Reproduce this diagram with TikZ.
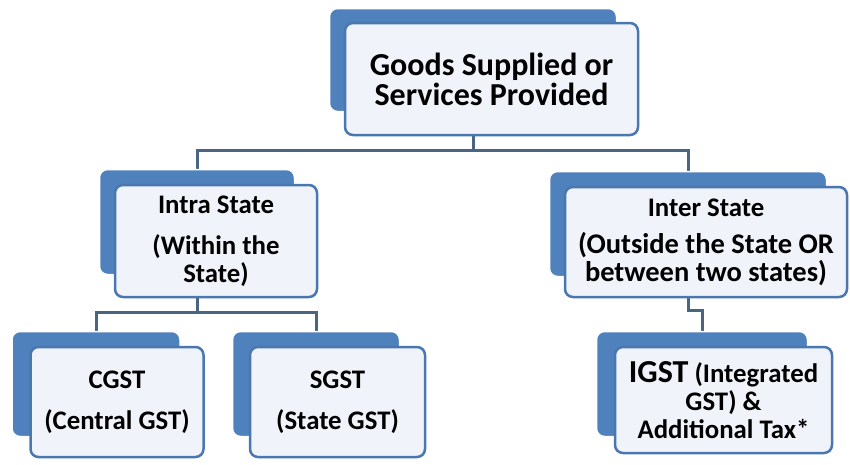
\documentclass[tikz,border=0pt]{standalone}
\usepackage{fontspec}
\setmainfont{Carlito}
\usepackage{tikz}
\usepackage{xcolor}
\usetikzlibrary{positioning}
\usetikzlibrary{backgrounds}

\definecolor{backblue}{HTML}{4F81BD}
\definecolor{frontedge}{HTML}{4A77AF}
\definecolor{frontfill}{HTML}{F0F3F9}
\definecolor{connline}{HTML}{4A6580}

\begin{document}
\begin{tikzpicture}[x=1pt, y=-1pt,
Bnode/.style={rectangle, rounded corners=8pt, fill=backblue, draw=white, line width=1.5pt},
Fnode/.style={rectangle, rounded corners=8pt, fill=frontfill, draw=frontedge, line width=2.5pt, anchor=north west, align=center, font=\bfseries\fontsize{26.8}{28}\selectfont},
Cline/.style={draw=connline, line width=3pt}
]
\useasboundingbox (0,0) rectangle (850,464);

%Nodes
\node[Bnode, minimum width=287pt, minimum height=103pt] (GSb) at (473,60) {};
\node[Fnode, minimum width=293pt, minimum height=112pt, font=\bfseries\fontsize{32}{30}\selectfont] (GS) at ([shift={(15,14)}]GSb.north west) {Goods Supplied or\\Services Provided};

\node[Bnode, minimum width=195pt, minimum height=105pt] (INb) at (197,222) {};
\node[Fnode, minimum width=202pt, minimum height=112pt] (IN) at ([shift={(15,15)}]INb.north west) {Intra State\\[13pt](Within the\\State)};

\node[Bnode, minimum width=277pt, minimum height=105pt] (OUTb) at (688,224) {};
\node[Fnode, minimum width=282pt, minimum height=110pt, font=\bfseries\fontsize{28.5}{28}\selectfont] (OUT) at ([shift={(15,15)}]OUTb.north west) {{\fontsize{26.8}{28}\selectfont Inter State}\\[9pt](Outside the State OR\\between two states)};

\node[Bnode, minimum width=168pt, minimum height=105pt] (CGb) at (96,384) {};
\node[Fnode, minimum width=173pt, minimum height=110pt] (CG) at ([shift={(18,15)}]CGb.north west) {CGST\\[13pt](Central GST)};

\node[Bnode, minimum width=167pt, minimum height=105pt] (SGb) at (316,384) {};
\node[Fnode, minimum width=175pt, minimum height=110pt] (SG) at ([shift={(17,15)}]SGb.north west) {SGST\\[13pt](State GST)};

\node[Bnode, minimum width=211pt, minimum height=105pt] (IGb) at (702,384) {};
\node[Fnode, minimum width=217pt, minimum height=106pt] (IG) at ([shift={(18,15)}]IGb.north west) {{\fontsize{32}{28}\selectfont IGST} (Integrated\\GST) \&\\Additional Tax*};

%Lines
\begin{scope}[on background layer]
\draw[Cline] (GSb.south) -- ++(0,38) -| (INb.north);
\draw[Cline] (GSb.south) -- ++(0,38) -| (OUTb.north);
\draw[Cline] (INb.south) -- ++(0,37) -| (CGb.north);
\draw[Cline] (INb.south) -- ++(0,37) -| (SGb.north);
\draw[Cline] (OUTb.south) -- ++(0,33) -| (IGb.north);
\end{scope}
\end{tikzpicture}
\end{document}
